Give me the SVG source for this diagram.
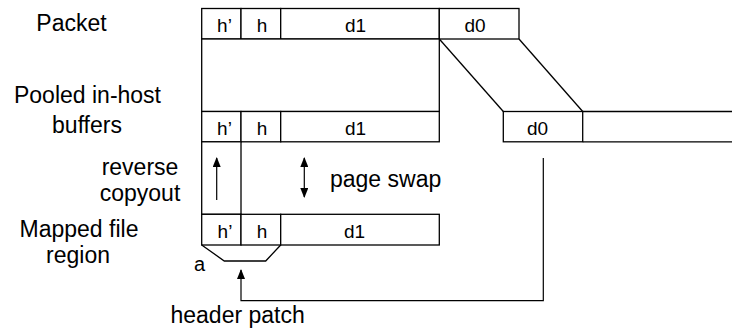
<svg xmlns="http://www.w3.org/2000/svg" width="732" height="330" viewBox="0 0 732 330">
<style>
.b{fill:#fff;stroke:#000;stroke-width:1.3}
.l{fill:none;stroke:#000;stroke-width:1.3}
.c{fill:none;stroke:#000;stroke-width:1.2}
.t{font-family:"Liberation Sans",Arial,sans-serif;font-size:23px;fill:#000}
.s{font-family:"Liberation Sans",Arial,sans-serif;font-size:19px;fill:#000;text-anchor:middle}
</style>
<defs>
<marker id="ah" viewBox="0 0 10 10" refX="9" refY="5" markerWidth="10" markerHeight="8" preserveAspectRatio="none" markerUnits="userSpaceOnUse" orient="auto-start-reverse">
<path d="M0,0 L10,5 L0,10 z" fill="#000"/>
</marker>
</defs>
<rect width="732" height="330" fill="#fff"/>
<g id="labels">
<text class="t" x="71.5" y="31" text-anchor="middle">Packet</text>
<text class="t" x="87.5" y="103" text-anchor="middle">Pooled in-host</text>
<text class="t" x="87" y="133" text-anchor="middle">buffers</text>
<text class="t" x="140" y="175" text-anchor="middle">reverse</text>
<text class="t" x="140" y="201" text-anchor="middle">copyout</text>
<text class="t" x="79" y="237" text-anchor="middle">Mapped file</text>
<text class="t" x="78" y="263" text-anchor="middle">region</text>
</g>
<g id="packet">
<rect class="b" x="201.7" y="8.5" width="39.3" height="30.5"/>
<rect class="b" x="241" y="8.5" width="39.7" height="30.5"/>
<rect class="b" x="280.7" y="8.5" width="158.6" height="30.5"/>
<rect class="b" x="439.3" y="8.5" width="79.7" height="30.5"/>
<text class="s" x="224.5" y="32">h’</text>
<text class="s" x="262" y="32">h</text>
<text class="s" x="355.5" y="32">d1</text>
<text class="s" x="475" y="32">d0</text>
</g>
<g id="buffers">
<rect class="b" x="201.7" y="39" width="237.6" height="72.5"/>
<rect class="b" x="201.7" y="111.5" width="39.3" height="30.3"/>
<rect class="b" x="241" y="111.5" width="39.7" height="30.3"/>
<rect class="b" x="280.7" y="111.5" width="158.6" height="30.3"/>
<rect class="b" x="503.3" y="111.5" width="79.4" height="30.3"/>
<path class="l" d="M582.7,111.5 H733 M582.7,141.8 H733"/>
<text class="s" x="224.5" y="135">h’</text>
<text class="s" x="262" y="135">h</text>
<text class="s" x="355.5" y="135">d1</text>
<text class="s" x="537.5" y="135">d0</text>
</g>
<g id="copy-column">
<rect class="b" x="201.7" y="141.8" width="39.3" height="72.5"/>
</g>
<g id="mapped">
<rect class="b" x="201.7" y="214.3" width="39.3" height="30.7"/>
<rect class="b" x="241" y="214.3" width="39.7" height="30.7"/>
<rect class="b" x="280.7" y="214.3" width="158.6" height="30.7"/>
<text class="s" x="225" y="238">h’</text>
<text class="s" x="262" y="238">h</text>
<text class="s" x="354.5" y="238">d1</text>
<path class="l" d="M201.7,245 L224.3,261 H265.7 L280.7,245"/>
<text x="194" y="270.5" style="font-family:'Liberation Sans',Arial,sans-serif;font-size:20px">a</text>
</g>
<g id="connectors">
<line class="l" x1="439.3" y1="39" x2="503.3" y2="111.5"/>
<line class="l" x1="519" y1="39" x2="582.7" y2="111.5"/>
<line class="c" x1="216.7" y1="200" x2="216.7" y2="158" marker-end="url(#ah)"/>
<line class="c" x1="304.3" y1="158" x2="304.3" y2="197" marker-start="url(#ah)" marker-end="url(#ah)"/>
<path class="c" d="M543.3,158 V300.7 H241 V270" marker-end="url(#ah)"/>
<text class="t" x="330" y="187">page swap</text>
<text class="t" x="170.5" y="322.5">header patch</text>
</g>
</svg>
